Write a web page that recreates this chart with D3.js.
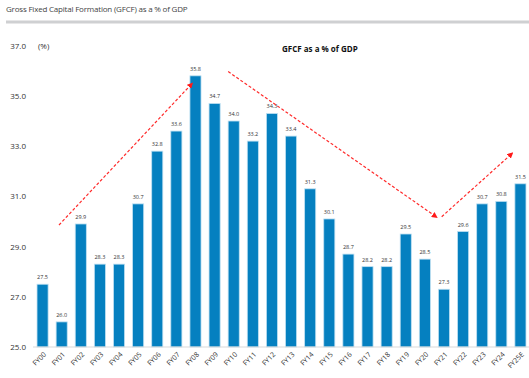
<!DOCTYPE html>
<html><head><meta charset="utf-8">
<script src="https://cdn.jsdelivr.net/npm/d3@7/dist/d3.min.js"></script>
<style>body{margin:0;background:#fff}svg{display:block}</style>
</head><body>
<script>
const categories = ["FY00","FY01","FY02","FY03","FY04","FY05","FY06","FY07","FY08","FY09","FY10","FY11","FY12","FY13","FY14","FY15","FY16","FY17","FY18","FY19","FY20","FY21","FY22","FY23","FY24","FY25E"];
const values = [27.5,26.0,29.9,28.3,28.3,30.7,32.8,33.6,35.8,34.7,34.0,33.2,34.3,33.4,31.3,30.1,28.7,28.2,28.2,29.5,28.5,27.3,29.6,30.7,30.8,31.5];
const yTicks = [25,27,29,31,33,35,37];
// trend arrows: [startIndex, startValue, endIndex, endValue]
const arrows = [[0.86,29.86,7.83,35.5],[9.71,35.97,20.62,30.17],[20.88,30.19,24.58,32.72]];

const W=529,H=378;
const svg=d3.select("body").append("svg").attr("width",W).attr("height",H);
const font="'Open Sans', 'Liberation Sans', sans-serif";

svg.append("text").attr("x",6).attr("y",12).attr("font-family",font).attr("font-size",8).attr("fill","#444")
  .attr("letter-spacing","-0.2").text("Gross Fixed Capital Formation (GFCF) as a % of GDP");
svg.append("line").attr("x1",6).attr("x2",529).attr("y1",22).attr("y2",22).attr("stroke","#cfd0d2").attr("stroke-width",3);

const x=d3.scaleBand().domain(categories).range([33,530]).paddingInner(0.42).paddingOuter(0.21);
const y=d3.scaleLinear().domain([25,37]).range([347,45.7]);
const step=x.step();
const xi=i=>x(categories[0])+x.bandwidth()/2+i*step;

// y axis labels
svg.append("g").selectAll("text").data(yTicks).join("text")
  .attr("x",26).attr("y",d=>y(d)+3).attr("text-anchor","end")
  .attr("font-family",font).attr("font-size",8).attr("fill","#333").text(d=>d.toFixed(1));
svg.append("text").attr("x",38).attr("y",y(37)+3).attr("font-family",font).attr("font-size",8).attr("fill","#333").text("(%)");

svg.append("text").attr("x",282).attr("y",52).attr("font-family",font).attr("font-size",8).attr("font-weight","bold").attr("fill","#111").text("GFCF as a % of GDP");

// bars
svg.append("g").selectAll("rect").data(values).join("rect")
  .attr("x",(d,i)=>x(categories[i])).attr("width",x.bandwidth())
  .attr("y",d=>y(d)).attr("height",d=>y(25)-y(d))
  .attr("fill","#0580c0").attr("stroke","#bfe0f2").attr("stroke-width",0.8);

// value labels
svg.append("g").selectAll("text").data(values).join("text")
  .attr("x",(d,i)=>x(categories[i])+x.bandwidth()/2).attr("y",d=>y(d)-5)
  .attr("text-anchor","middle").attr("font-family",font).attr("font-size",5.5).attr("fill","#333")
  .text(d=>d.toFixed(1));

// x axis
svg.append("line").attr("x1",33).attr("x2",529).attr("y1",y(25)).attr("y2",y(25)).attr("stroke","#d9d9d9").attr("stroke-width",1);
svg.append("g").selectAll("text").data(categories).join("text")
  .attr("transform",d=>`translate(${x(d)+x.bandwidth()/2+4},${y(25)+8}) rotate(-45)`)
  .attr("text-anchor","end").attr("font-family",font).attr("font-size",7).attr("fill","#333").text(d=>d);

// arrows
const defs=svg.append("defs");
defs.append("marker").attr("id","ah").attr("viewBox","0 0 10 10").attr("refX",8).attr("refY",5)
  .attr("markerWidth",5).attr("markerHeight",5).attr("orient","auto")
  .append("path").attr("d","M0,0L10,5L0,10z").attr("fill","#ff1a1a");
svg.append("g").selectAll("line").data(arrows).join("line")
  .attr("x1",d=>xi(d[0])).attr("y1",d=>y(d[1])).attr("x2",d=>xi(d[2])).attr("y2",d=>y(d[3]))
  .attr("stroke","#ff2a2a").attr("stroke-width",1.2).attr("stroke-dasharray","3,2")
  .attr("marker-end","url(#ah)");
</script>
</body></html>
